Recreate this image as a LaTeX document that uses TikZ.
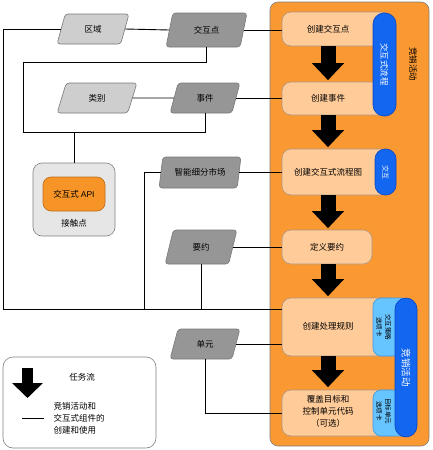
\documentclass[tikz,border=0pt]{standalone}
\usepackage{fontspec}
\setmainfont{Noto Sans CJK SC}
\newfontfamily\latinsans{Liberation Sans}
\usetikzlibrary{shapes.geometric,arrows.meta}
\definecolor{campOrange}{RGB}{250,152,50}
\definecolor{peach}{RGB}{255,204,153}
\definecolor{pillBlue}{RGB}{18,102,240}
\definecolor{pillBorder}{RGB}{10,70,190}
\definecolor{tabBlue}{RGB}{102,196,255}
\definecolor{tabBorder}{RGB}{70,150,220}
\definecolor{darkPara}{RGB}{150,150,150}
\definecolor{lightPara}{RGB}{206,206,206}
\definecolor{paraBorder}{RGB}{120,120,120}
\definecolor{boxBorder}{RGB}{170,150,130}
\definecolor{apiOrange}{RGB}{247,148,40}
\definecolor{apiBorder}{RGB}{190,110,30}
\definecolor{contactGray}{RGB}{230,230,230}
\begin{document}
\begin{tikzpicture}[x=1pt,y=-1pt,font=\fontsize{8.5}{11}\selectfont,
  para/.style={trapezium, trapezium left angle=72, trapezium right angle=108,
    trapezium stretches=true, draw=paraBorder, rounded corners=3pt,
    inner sep=0pt, line width=0.6pt},
  lpara/.style={para, fill=lightPara},
  dpara/.style={para, fill=darkPara},
  pbox/.style={draw=boxBorder, fill=peach, rounded corners=9pt, inner sep=0pt, line width=0.6pt},
  pill/.style={draw=pillBorder, fill=pillBlue, inner sep=0pt, line width=0.6pt},
  tabbox/.style={draw=tabBorder, fill=tabBlue, rounded corners=8pt, inner sep=0pt, line width=0.6pt},
  conn/.style={draw=black, line width=0.9pt},
  flowarrow/.style={line width=15pt, -{Triangle[width=31pt,length=17pt]}},
  vtext/.style={rotate=-90, inner sep=0pt},
]
\useasboundingbox (0,0) rectangle (432,450);

% campaign container
\node[draw=gray, fill=campOrange, rounded corners=8pt, minimum width=159, minimum height=444, inner sep=0pt, line width=0.6pt] (camp) at (349.5,224) {};
\node[vtext] (camplab) at (413,64) {竞销活动};

% process boxes
\node[pbox, minimum width=108, minimum height=34] (b1) at (336,29) {};
\node[pbox, minimum width=108, minimum height=33] (b2) at (336,98.5) {};
\node[pbox, minimum width=108, minimum height=46] (b3) at (336,172) {};
\node[pbox, minimum width=90, minimum height=34] (b4) at (327,247) {定义要约};
\node[pbox, minimum width=118, minimum height=58] (b5) at (341,327) {};
\node[pbox, minimum width=118, minimum height=46] (b6) at (341,413) {};

\node (t1) at (328,29) {创建交互点};
\node (t2) at (328,98.5) {创建事件};
\node (t3) at (328,172) {创建交互式流程图};
\node (t5) at (328,326) {创建处理规则};
\node[align=center, font=\fontsize{8.5}{12}\selectfont] (t6) at (328,411) {覆盖目标和\\控制单元代码\\（可选）};

% tabs
\node[tabbox, minimum width=37, minimum height=58] (tab1) at (391.5,327) {};
\node[tabbox, minimum width=37, minimum height=46] (tab2) at (391.5,413) {};
\node[vtext, align=center, font=\fontsize{6.5}{9}\selectfont] (tt1) at (383.5,327) {交互策略\\选项卡};
\node[vtext, align=center, font=\fontsize{6.5}{9}\selectfont] (tt2) at (383.5,411) {目标单元\\选项卡};

% pills
\node[pill, rounded corners=11pt, minimum width=23, minimum height=103] (p1) at (384.5,64.5) {};
\node[vtext, text=white] (tp1) at (p1) {交互式流程};
\node[pill, rounded corners=10pt, minimum width=21, minimum height=46] (p3) at (385.5,172) {};
\node[vtext, text=white, font=\fontsize{7}{9}\selectfont] (tp3) at (p3) {交互};
\node[pill, rounded corners=11pt, minimum width=22, minimum height=139] (p2) at (406,367.5) {};
\node[vtext, text=white, font=\fontsize{9.5}{11}\selectfont] (tp2) at (p2) {竞销活动};

% flow arrows
\draw[flowarrow, shorten >=1.5pt] (t1 |- b1.south) -- (t1 |- b2.north);
\draw[flowarrow, shorten >=1.5pt] (t2 |- b2.south) -- (t2 |- b3.north);
\draw[flowarrow, shorten >=1.5pt] (t3 |- b3.south) -- (t3 |- b4.north);
\draw[flowarrow, shorten >=1.5pt] (t3 |- b4.south) -- (t3 |- b5.north);
\draw[flowarrow, shorten >=2.5pt] (t5 |- b5.south) -- (t5 |- b6.north);

% parallelograms
\node[lpara, minimum width=72, minimum height=30] (quyu) at (93,29) {区域};
\node[dpara, minimum width=81, minimum height=34] (jhd) at (206.5,30) {交互点};
\node[lpara, minimum width=80, minimum height=30] (leibie) at (97,98) {类别};
\node[dpara, minimum width=70, minimum height=30] (shijian) at (205,98) {事件};
\node[dpara, minimum width=82, minimum height=31] (zn) at (200,172.5) {智能细分市场};
\node[dpara, minimum width=72, minimum height=34] (yy) at (201,247) {要约};
\node[dpara, minimum width=70, minimum height=30] (dy) at (205,344) {单元};

% touch point
\node[draw=gray, fill=contactGray, rounded corners=9pt, minimum width=82, minimum height=73, inner sep=0pt, line width=0.6pt] (jcd) at (74,199.5) {};
\node[draw=apiBorder, fill=apiOrange, rounded corners=8pt, minimum width=62, minimum height=34, inner sep=0pt, line width=0.6pt] (api) at (74,194) {交互式 {\latinsans API}};
\node (jcdlab) at (74,223) {接触点};

% connectors
\coordinate (cL) at (3,309);
\coordinate (c1) at (23,62);
\coordinate (c2) at (23,132);
\coordinate (c3) at (144,309);
\draw[conn] (quyu.west) -| (cL) -- (cL -| b5.west);
\draw[conn] (quyu.east) -- (jhd.west);
\draw[conn] (jhd.east) -- (jhd.east -| b1.west);
\draw[conn] (jhd.south) |- (c1) -- (c2) -| (shijian.south);
\draw[conn] (c2 -| jcd.north) -- (jcd.north);
\draw[conn] (leibie.east) -- (shijian.west);
\draw[conn] (shijian.east) -- (shijian.east -| b2.west);
\draw[conn] (zn.west) -| (c3);
\draw[conn] (zn.east) -- (zn.east -| b3.west);
\draw[conn] (yy.east) -- (yy.east -| b4.west);
\draw[conn] (yy.south) -- (yy.south |- cL);
\draw[conn] (dy.east) -- (dy.east -| b5.west);
\draw[conn] (dy.south) |- (b6.west);

% legend
\node[draw=gray, fill=white, rounded corners=10pt, minimum width=153, minimum height=91, inner sep=0pt, line width=0.6pt] (leg) at (79.5,402.5) {};
\coordinate (la1) at (27.5,368);
\coordinate (la2) at (27.5,398);
\draw[line width=11pt, -{Triangle[width=30pt,length=15pt]}] (la1) -- (la2);
\node (legflow) at (82,377) {任务流};
\coordinate (ll1) at (22,418);
\coordinate (ll2) at (44,418);
\draw[conn] (ll1) -- (ll2);
\node[anchor=west, align=left, font=\fontsize{8.5}{12}\selectfont] (legtxt) at (50,418) {竞销活动和\\交互式组件的\\创建和使用};
\end{tikzpicture}
\end{document}
